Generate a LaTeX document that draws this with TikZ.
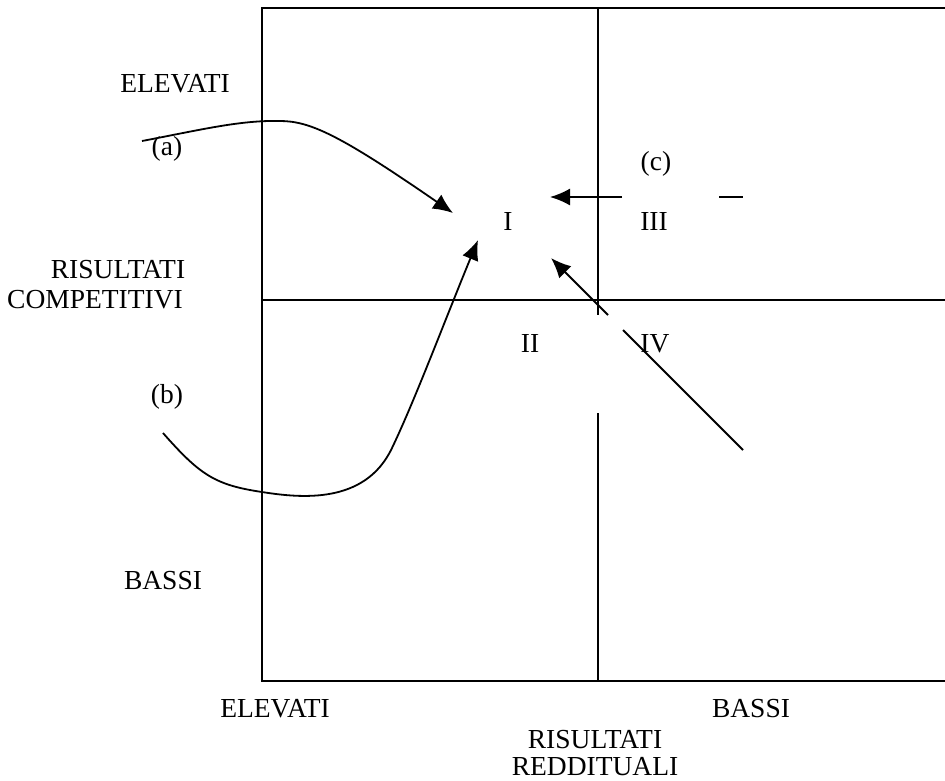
\documentclass[tikz,border=0pt]{standalone}
\usepackage{fontspec}
\setmainfont{Liberation Serif}
\usetikzlibrary{arrows.meta,positioning}

\begin{document}
\begin{tikzpicture}[x=1pt,y=-1pt,line width=1.8pt,
  lab/.style={font=\fontsize{27.5}{30}\selectfont,inner sep=0pt,anchor=base},
  arr/.style={-{Latex[length=20pt,width=17pt]}}]
\useasboundingbox (0,0) rectangle (945,780);

% matrix frame
\coordinate (tr) at (945,8);
\coordinate (tl) at (262,8);
\coordinate (bl) at (262,681);
\coordinate (br) at (945,681);
\draw (tr) -- (tl) -- (bl) -- (br);
\draw (262,300) -- (945,300);
\draw (598,8) -- (598,315);
\draw (598,413) -- (598,681);

% labels
\node[lab] (eltop) at (175,92) {ELEVATI};
\node[lab] (ris1) at (118,278) {RISULTATI};
\node[lab] (comp) at (95,308) {COMPETITIVI};
\node[lab] (bastop) at (163,589) {BASSI};
\node[lab] (elbot) at (275,717) {ELEVATI};
\node[lab] (basbot) at (751,717) {BASSI};
\node[lab] (ris2) at (595,748) {RISULTATI};
\node[lab] (redd) at (595,775) {REDDITUALI};

\node[lab] (qI) at (508,230) {I};
\node[lab] (qII) at (530,352) {II};
\node[lab] (qIII) at (654,230) {III};
\node[lab] (qIV) at (655,352) {IV};
\node[lab] (la) at (167,155) {(a)};
\node[lab] (lb) at (167,403) {(b)};
\node[lab] (lc) at (656,170) {(c)};

% paths
\coordinate (aS) at (142,141);
\coordinate (aE) at (453,213);
\draw[arr] (aS) .. controls (200,130) and (240,120) .. (280,121)
  .. controls (310,121) and (340,135) .. (aE);

\coordinate (bS) at (163,433);
\coordinate (bE) at (478,240);
\draw[arr] (bS) .. controls (200,475) and (215,485) .. (262,492)
  .. controls (300,498) and (365,505) .. (392,448)
  .. controls (415,400) and (445,320) .. (bE);

\coordinate (cS) at (622,197);
\coordinate (cE) at (550,197);
\draw[arr] (cS) -- (cE);
\draw (719,197) -- (743,197);

\coordinate (dS) at (743,450);
\coordinate (dE) at (551,258);
\draw (dS) -- (623,330);
\draw[arr] (608,315) -- (dE);

\end{tikzpicture}
\end{document}
